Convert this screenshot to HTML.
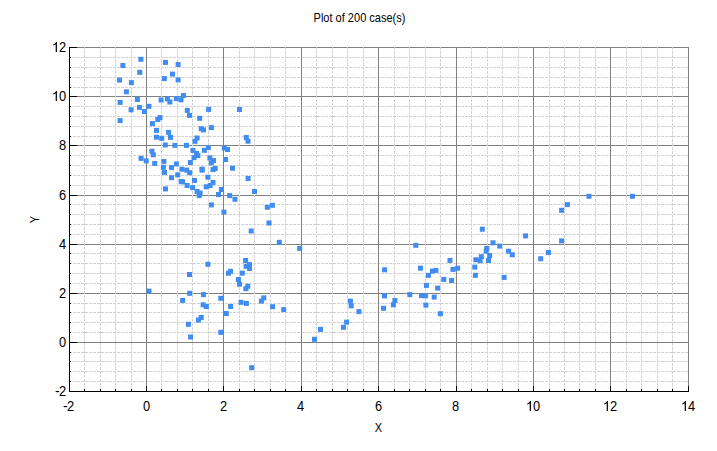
<!DOCTYPE html>
<html><head><meta charset="utf-8"><title>Plot of 200 case(s)</title>
<style>html,body{margin:0;padding:0;background:#fff;}body{width:717px;height:451px;overflow:hidden;font-family:"Liberation Sans",sans-serif;}svg{display:block;}text{font-family:"Liberation Sans",sans-serif;fill:#000;}</style>
</head><body>
<svg width="717" height="451" viewBox="0 0 717 451">
<rect x="0" y="0" width="717" height="451" fill="#ffffff"/>
<g shape-rendering="crispEdges" fill="none">
<g stroke="#d3d3d3" stroke-width="1" stroke-dasharray="3 1">
<line x1="69" y1="381.5" x2="689" y2="381.5"/>
<line x1="69" y1="371.5" x2="689" y2="371.5"/>
<line x1="69" y1="361.5" x2="689" y2="361.5"/>
<line x1="69" y1="352.5" x2="689" y2="352.5"/>
<line x1="69" y1="332.5" x2="689" y2="332.5"/>
<line x1="69" y1="322.5" x2="689" y2="322.5"/>
<line x1="69" y1="312.5" x2="689" y2="312.5"/>
<line x1="69" y1="303.5" x2="689" y2="303.5"/>
<line x1="69" y1="283.5" x2="689" y2="283.5"/>
<line x1="69" y1="273.5" x2="689" y2="273.5"/>
<line x1="69" y1="263.5" x2="689" y2="263.5"/>
<line x1="69" y1="253.5" x2="689" y2="253.5"/>
<line x1="69" y1="234.5" x2="689" y2="234.5"/>
<line x1="69" y1="224.5" x2="689" y2="224.5"/>
<line x1="69" y1="214.5" x2="689" y2="214.5"/>
<line x1="69" y1="204.5" x2="689" y2="204.5"/>
<line x1="69" y1="185.5" x2="689" y2="185.5"/>
<line x1="69" y1="175.5" x2="689" y2="175.5"/>
<line x1="69" y1="165.5" x2="689" y2="165.5"/>
<line x1="69" y1="155.5" x2="689" y2="155.5"/>
<line x1="69" y1="136.5" x2="689" y2="136.5"/>
<line x1="69" y1="126.5" x2="689" y2="126.5"/>
<line x1="69" y1="116.5" x2="689" y2="116.5"/>
<line x1="69" y1="106.5" x2="689" y2="106.5"/>
<line x1="69" y1="87.5" x2="689" y2="87.5"/>
<line x1="69" y1="77.5" x2="689" y2="77.5"/>
<line x1="69" y1="67.5" x2="689" y2="67.5"/>
<line x1="69" y1="57.5" x2="689" y2="57.5"/>
</g>
<g stroke="#808080" stroke-width="1">
<line x1="69" y1="391.5" x2="689" y2="391.5"/>
<line x1="69" y1="342.5" x2="689" y2="342.5"/>
<line x1="69" y1="293.5" x2="689" y2="293.5"/>
<line x1="69" y1="244.5" x2="689" y2="244.5"/>
<line x1="69" y1="195.5" x2="689" y2="195.5"/>
<line x1="69" y1="145.5" x2="689" y2="145.5"/>
<line x1="69" y1="96.5" x2="689" y2="96.5"/>
<line x1="69" y1="47.5" x2="689" y2="47.5"/>
</g>
<g stroke="#d3d3d3" stroke-width="1" stroke-dasharray="3 1">
<line x1="84.5" y1="47" x2="84.5" y2="392"/>
<line x1="100.5" y1="47" x2="100.5" y2="392"/>
<line x1="115.5" y1="47" x2="115.5" y2="392"/>
<line x1="131.5" y1="47" x2="131.5" y2="392"/>
<line x1="161.5" y1="47" x2="161.5" y2="392"/>
<line x1="177.5" y1="47" x2="177.5" y2="392"/>
<line x1="192.5" y1="47" x2="192.5" y2="392"/>
<line x1="208.5" y1="47" x2="208.5" y2="392"/>
<line x1="239.5" y1="47" x2="239.5" y2="392"/>
<line x1="254.5" y1="47" x2="254.5" y2="392"/>
<line x1="270.5" y1="47" x2="270.5" y2="392"/>
<line x1="285.5" y1="47" x2="285.5" y2="392"/>
<line x1="316.5" y1="47" x2="316.5" y2="392"/>
<line x1="332.5" y1="47" x2="332.5" y2="392"/>
<line x1="347.5" y1="47" x2="347.5" y2="392"/>
<line x1="363.5" y1="47" x2="363.5" y2="392"/>
<line x1="394.5" y1="47" x2="394.5" y2="392"/>
<line x1="409.5" y1="47" x2="409.5" y2="392"/>
<line x1="425.5" y1="47" x2="425.5" y2="392"/>
<line x1="440.5" y1="47" x2="440.5" y2="392"/>
<line x1="471.5" y1="47" x2="471.5" y2="392"/>
<line x1="487.5" y1="47" x2="487.5" y2="392"/>
<line x1="502.5" y1="47" x2="502.5" y2="392"/>
<line x1="518.5" y1="47" x2="518.5" y2="392"/>
<line x1="549.5" y1="47" x2="549.5" y2="392"/>
<line x1="564.5" y1="47" x2="564.5" y2="392"/>
<line x1="579.5" y1="47" x2="579.5" y2="392"/>
<line x1="595.5" y1="47" x2="595.5" y2="392"/>
<line x1="626.5" y1="47" x2="626.5" y2="392"/>
<line x1="641.5" y1="47" x2="641.5" y2="392"/>
<line x1="657.5" y1="47" x2="657.5" y2="392"/>
<line x1="672.5" y1="47" x2="672.5" y2="392"/>
</g>
<g stroke="#808080" stroke-width="1">
<line x1="69.5" y1="47" x2="69.5" y2="392"/>
<line x1="146.5" y1="47" x2="146.5" y2="392"/>
<line x1="223.5" y1="47" x2="223.5" y2="392"/>
<line x1="301.5" y1="47" x2="301.5" y2="392"/>
<line x1="378.5" y1="47" x2="378.5" y2="392"/>
<line x1="456.5" y1="47" x2="456.5" y2="392"/>
<line x1="533.5" y1="47" x2="533.5" y2="392"/>
<line x1="610.5" y1="47" x2="610.5" y2="392"/>
<line x1="688.5" y1="47" x2="688.5" y2="392"/>
</g>
<g stroke="#000" stroke-width="1">
<line x1="69.5" y1="47" x2="69.5" y2="392"/>
<line x1="69" y1="391.5" x2="689" y2="391.5"/>
<line x1="69" y1="391.5" x2="77" y2="391.5"/>
<line x1="69" y1="381.5" x2="71" y2="381.5"/>
<line x1="69" y1="371.5" x2="71" y2="371.5"/>
<line x1="69" y1="361.5" x2="71" y2="361.5"/>
<line x1="69" y1="352.5" x2="71" y2="352.5"/>
<line x1="69" y1="342.5" x2="77" y2="342.5"/>
<line x1="69" y1="332.5" x2="71" y2="332.5"/>
<line x1="69" y1="322.5" x2="71" y2="322.5"/>
<line x1="69" y1="312.5" x2="71" y2="312.5"/>
<line x1="69" y1="303.5" x2="71" y2="303.5"/>
<line x1="69" y1="293.5" x2="77" y2="293.5"/>
<line x1="69" y1="283.5" x2="71" y2="283.5"/>
<line x1="69" y1="273.5" x2="71" y2="273.5"/>
<line x1="69" y1="263.5" x2="71" y2="263.5"/>
<line x1="69" y1="253.5" x2="71" y2="253.5"/>
<line x1="69" y1="244.5" x2="77" y2="244.5"/>
<line x1="69" y1="234.5" x2="71" y2="234.5"/>
<line x1="69" y1="224.5" x2="71" y2="224.5"/>
<line x1="69" y1="214.5" x2="71" y2="214.5"/>
<line x1="69" y1="204.5" x2="71" y2="204.5"/>
<line x1="69" y1="195.5" x2="77" y2="195.5"/>
<line x1="69" y1="185.5" x2="71" y2="185.5"/>
<line x1="69" y1="175.5" x2="71" y2="175.5"/>
<line x1="69" y1="165.5" x2="71" y2="165.5"/>
<line x1="69" y1="155.5" x2="71" y2="155.5"/>
<line x1="69" y1="145.5" x2="77" y2="145.5"/>
<line x1="69" y1="136.5" x2="71" y2="136.5"/>
<line x1="69" y1="126.5" x2="71" y2="126.5"/>
<line x1="69" y1="116.5" x2="71" y2="116.5"/>
<line x1="69" y1="106.5" x2="71" y2="106.5"/>
<line x1="69" y1="96.5" x2="77" y2="96.5"/>
<line x1="69" y1="87.5" x2="71" y2="87.5"/>
<line x1="69" y1="77.5" x2="71" y2="77.5"/>
<line x1="69" y1="67.5" x2="71" y2="67.5"/>
<line x1="69" y1="57.5" x2="71" y2="57.5"/>
<line x1="69" y1="47.5" x2="77" y2="47.5"/>
<line x1="69.5" y1="392" x2="69.5" y2="386"/>
<line x1="84.5" y1="392" x2="84.5" y2="389"/>
<line x1="100.5" y1="392" x2="100.5" y2="389"/>
<line x1="115.5" y1="392" x2="115.5" y2="389"/>
<line x1="131.5" y1="392" x2="131.5" y2="389"/>
<line x1="146.5" y1="392" x2="146.5" y2="386"/>
<line x1="161.5" y1="392" x2="161.5" y2="389"/>
<line x1="177.5" y1="392" x2="177.5" y2="389"/>
<line x1="192.5" y1="392" x2="192.5" y2="389"/>
<line x1="208.5" y1="392" x2="208.5" y2="389"/>
<line x1="223.5" y1="392" x2="223.5" y2="386"/>
<line x1="239.5" y1="392" x2="239.5" y2="389"/>
<line x1="254.5" y1="392" x2="254.5" y2="389"/>
<line x1="270.5" y1="392" x2="270.5" y2="389"/>
<line x1="285.5" y1="392" x2="285.5" y2="389"/>
<line x1="301.5" y1="392" x2="301.5" y2="386"/>
<line x1="316.5" y1="392" x2="316.5" y2="389"/>
<line x1="332.5" y1="392" x2="332.5" y2="389"/>
<line x1="347.5" y1="392" x2="347.5" y2="389"/>
<line x1="363.5" y1="392" x2="363.5" y2="389"/>
<line x1="378.5" y1="392" x2="378.5" y2="386"/>
<line x1="394.5" y1="392" x2="394.5" y2="389"/>
<line x1="409.5" y1="392" x2="409.5" y2="389"/>
<line x1="425.5" y1="392" x2="425.5" y2="389"/>
<line x1="440.5" y1="392" x2="440.5" y2="389"/>
<line x1="456.5" y1="392" x2="456.5" y2="386"/>
<line x1="471.5" y1="392" x2="471.5" y2="389"/>
<line x1="487.5" y1="392" x2="487.5" y2="389"/>
<line x1="502.5" y1="392" x2="502.5" y2="389"/>
<line x1="518.5" y1="392" x2="518.5" y2="389"/>
<line x1="533.5" y1="392" x2="533.5" y2="386"/>
<line x1="549.5" y1="392" x2="549.5" y2="389"/>
<line x1="564.5" y1="392" x2="564.5" y2="389"/>
<line x1="579.5" y1="392" x2="579.5" y2="389"/>
<line x1="595.5" y1="392" x2="595.5" y2="389"/>
<line x1="610.5" y1="392" x2="610.5" y2="386"/>
<line x1="626.5" y1="392" x2="626.5" y2="389"/>
<line x1="641.5" y1="392" x2="641.5" y2="389"/>
<line x1="657.5" y1="392" x2="657.5" y2="389"/>
<line x1="672.5" y1="392" x2="672.5" y2="389"/>
<line x1="688.5" y1="392" x2="688.5" y2="386"/>
</g>
</g>
<g fill="#418cf0">
<rect x="138.4" y="56.8" width="5" height="5"/>
<rect x="120.4" y="63.0" width="5" height="5"/>
<rect x="137.3" y="69.8" width="5" height="5"/>
<rect x="117.0" y="77.6" width="5" height="5"/>
<rect x="128.9" y="80.1" width="5" height="5"/>
<rect x="123.9" y="89.3" width="5" height="5"/>
<rect x="163.0" y="59.9" width="5" height="5"/>
<rect x="175.6" y="62.0" width="5" height="5"/>
<rect x="170.0" y="71.6" width="5" height="5"/>
<rect x="161.9" y="76.1" width="5" height="5"/>
<rect x="175.6" y="77.4" width="5" height="5"/>
<rect x="180.9" y="93.0" width="5" height="5"/>
<rect x="134.9" y="97.0" width="5" height="5"/>
<rect x="117.6" y="99.9" width="5" height="5"/>
<rect x="137.0" y="104.9" width="5" height="5"/>
<rect x="128.6" y="107.3" width="5" height="5"/>
<rect x="142.0" y="109.0" width="5" height="5"/>
<rect x="146.4" y="103.8" width="5" height="5"/>
<rect x="117.6" y="118.1" width="5" height="5"/>
<rect x="158.6" y="97.5" width="5" height="5"/>
<rect x="164.9" y="96.4" width="5" height="5"/>
<rect x="167.4" y="99.5" width="5" height="5"/>
<rect x="173.8" y="96.1" width="5" height="5"/>
<rect x="178.5" y="97.3" width="5" height="5"/>
<rect x="157.5" y="115.1" width="5" height="5"/>
<rect x="155.3" y="117.0" width="5" height="5"/>
<rect x="149.9" y="121.1" width="5" height="5"/>
<rect x="154.0" y="127.9" width="5" height="5"/>
<rect x="166.1" y="129.9" width="5" height="5"/>
<rect x="154.0" y="134.7" width="5" height="5"/>
<rect x="159.2" y="135.8" width="5" height="5"/>
<rect x="168.0" y="134.9" width="5" height="5"/>
<rect x="162.8" y="142.5" width="5" height="5"/>
<rect x="172.4" y="142.9" width="5" height="5"/>
<rect x="184.8" y="107.9" width="5" height="5"/>
<rect x="187.0" y="112.9" width="5" height="5"/>
<rect x="206.2" y="106.9" width="5" height="5"/>
<rect x="237.0" y="107.0" width="5" height="5"/>
<rect x="197.2" y="115.8" width="5" height="5"/>
<rect x="198.7" y="126.2" width="5" height="5"/>
<rect x="201.0" y="127.4" width="5" height="5"/>
<rect x="208.9" y="125.1" width="5" height="5"/>
<rect x="194.6" y="135.5" width="5" height="5"/>
<rect x="192.5" y="138.8" width="5" height="5"/>
<rect x="183.9" y="142.9" width="5" height="5"/>
<rect x="243.8" y="135.0" width="5" height="5"/>
<rect x="245.5" y="138.7" width="5" height="5"/>
<rect x="149.4" y="148.7" width="5" height="5"/>
<rect x="150.8" y="152.3" width="5" height="5"/>
<rect x="138.6" y="155.9" width="5" height="5"/>
<rect x="143.7" y="158.4" width="5" height="5"/>
<rect x="152.2" y="160.9" width="5" height="5"/>
<rect x="161.4" y="158.9" width="5" height="5"/>
<rect x="173.9" y="161.5" width="5" height="5"/>
<rect x="160.9" y="164.8" width="5" height="5"/>
<rect x="169.0" y="165.1" width="5" height="5"/>
<rect x="162.0" y="169.9" width="5" height="5"/>
<rect x="169.0" y="175.2" width="5" height="5"/>
<rect x="175.2" y="172.4" width="5" height="5"/>
<rect x="179.4" y="166.7" width="5" height="5"/>
<rect x="178.7" y="178.9" width="5" height="5"/>
<rect x="180.1" y="179.4" width="5" height="5"/>
<rect x="163.0" y="186.4" width="5" height="5"/>
<rect x="205.8" y="145.1" width="5" height="5"/>
<rect x="201.9" y="147.8" width="5" height="5"/>
<rect x="190.4" y="147.9" width="5" height="5"/>
<rect x="194.1" y="150.9" width="5" height="5"/>
<rect x="195.4" y="153.1" width="5" height="5"/>
<rect x="191.5" y="155.2" width="5" height="5"/>
<rect x="221.9" y="145.6" width="5" height="5"/>
<rect x="225.0" y="147.0" width="5" height="5"/>
<rect x="207.4" y="155.4" width="5" height="5"/>
<rect x="211.0" y="158.1" width="5" height="5"/>
<rect x="208.8" y="160.4" width="5" height="5"/>
<rect x="223.1" y="157.0" width="5" height="5"/>
<rect x="187.9" y="160.0" width="5" height="5"/>
<rect x="184.2" y="167.6" width="5" height="5"/>
<rect x="187.2" y="170.2" width="5" height="5"/>
<rect x="199.6" y="166.6" width="5" height="5"/>
<rect x="199.6" y="167.7" width="5" height="5"/>
<rect x="210.5" y="167.1" width="5" height="5"/>
<rect x="212.7" y="166.0" width="5" height="5"/>
<rect x="230.0" y="165.7" width="5" height="5"/>
<rect x="205.4" y="174.7" width="5" height="5"/>
<rect x="192.0" y="177.9" width="5" height="5"/>
<rect x="210.5" y="179.9" width="5" height="5"/>
<rect x="184.6" y="183.0" width="5" height="5"/>
<rect x="207.7" y="183.0" width="5" height="5"/>
<rect x="203.8" y="184.3" width="5" height="5"/>
<rect x="190.1" y="185.1" width="5" height="5"/>
<rect x="218.9" y="187.0" width="5" height="5"/>
<rect x="245.6" y="176.0" width="5" height="5"/>
<rect x="194.6" y="189.0" width="5" height="5"/>
<rect x="197.6" y="190.5" width="5" height="5"/>
<rect x="196.8" y="193.1" width="5" height="5"/>
<rect x="216.0" y="192.0" width="5" height="5"/>
<rect x="227.2" y="193.1" width="5" height="5"/>
<rect x="232.5" y="196.8" width="5" height="5"/>
<rect x="208.9" y="202.4" width="5" height="5"/>
<rect x="221.4" y="209.6" width="5" height="5"/>
<rect x="252.0" y="189.0" width="5" height="5"/>
<rect x="269.9" y="202.8" width="5" height="5"/>
<rect x="264.8" y="204.8" width="5" height="5"/>
<rect x="266.5" y="220.5" width="5" height="5"/>
<rect x="248.7" y="228.5" width="5" height="5"/>
<rect x="276.8" y="239.8" width="5" height="5"/>
<rect x="297.2" y="245.9" width="5" height="5"/>
<rect x="243.1" y="258.0" width="5" height="5"/>
<rect x="247.0" y="262.1" width="5" height="5"/>
<rect x="243.6" y="263.8" width="5" height="5"/>
<rect x="247.0" y="266.0" width="5" height="5"/>
<rect x="239.8" y="270.6" width="5" height="5"/>
<rect x="205.4" y="261.8" width="5" height="5"/>
<rect x="187.0" y="272.0" width="5" height="5"/>
<rect x="228.1" y="268.8" width="5" height="5"/>
<rect x="226.0" y="270.7" width="5" height="5"/>
<rect x="235.9" y="277.0" width="5" height="5"/>
<rect x="237.0" y="281.7" width="5" height="5"/>
<rect x="245.3" y="283.7" width="5" height="5"/>
<rect x="243.4" y="286.2" width="5" height="5"/>
<rect x="187.2" y="290.8" width="5" height="5"/>
<rect x="201.0" y="292.1" width="5" height="5"/>
<rect x="180.1" y="297.9" width="5" height="5"/>
<rect x="218.3" y="295.8" width="5" height="5"/>
<rect x="200.6" y="302.3" width="5" height="5"/>
<rect x="203.8" y="304.0" width="5" height="5"/>
<rect x="238.6" y="299.8" width="5" height="5"/>
<rect x="243.9" y="300.9" width="5" height="5"/>
<rect x="228.1" y="304.0" width="5" height="5"/>
<rect x="223.8" y="311.0" width="5" height="5"/>
<rect x="198.7" y="315.0" width="5" height="5"/>
<rect x="261.3" y="295.4" width="5" height="5"/>
<rect x="258.9" y="298.6" width="5" height="5"/>
<rect x="270.1" y="304.2" width="5" height="5"/>
<rect x="281.2" y="307.1" width="5" height="5"/>
<rect x="196.0" y="317.5" width="5" height="5"/>
<rect x="185.9" y="321.8" width="5" height="5"/>
<rect x="218.3" y="329.8" width="5" height="5"/>
<rect x="188.1" y="334.5" width="5" height="5"/>
<rect x="146.5" y="288.6" width="5" height="5"/>
<rect x="249.2" y="365.2" width="5" height="5"/>
<rect x="312.0" y="336.8" width="5" height="5"/>
<rect x="318.0" y="326.9" width="5" height="5"/>
<rect x="341.0" y="324.8" width="5" height="5"/>
<rect x="344.1" y="319.6" width="5" height="5"/>
<rect x="356.4" y="309.1" width="5" height="5"/>
<rect x="347.9" y="298.6" width="5" height="5"/>
<rect x="348.7" y="303.3" width="5" height="5"/>
<rect x="382.0" y="293.4" width="5" height="5"/>
<rect x="381.0" y="305.8" width="5" height="5"/>
<rect x="392.4" y="298.0" width="5" height="5"/>
<rect x="390.9" y="302.3" width="5" height="5"/>
<rect x="407.3" y="292.1" width="5" height="5"/>
<rect x="419.0" y="293.1" width="5" height="5"/>
<rect x="422.9" y="293.4" width="5" height="5"/>
<rect x="431.7" y="294.6" width="5" height="5"/>
<rect x="423.4" y="302.6" width="5" height="5"/>
<rect x="437.9" y="311.2" width="5" height="5"/>
<rect x="423.9" y="282.9" width="5" height="5"/>
<rect x="435.2" y="285.6" width="5" height="5"/>
<rect x="425.9" y="272.9" width="5" height="5"/>
<rect x="441.3" y="276.9" width="5" height="5"/>
<rect x="449.1" y="278.0" width="5" height="5"/>
<rect x="413.3" y="242.8" width="5" height="5"/>
<rect x="382.1" y="267.3" width="5" height="5"/>
<rect x="418.0" y="265.7" width="5" height="5"/>
<rect x="429.9" y="268.6" width="5" height="5"/>
<rect x="433.4" y="267.9" width="5" height="5"/>
<rect x="447.5" y="257.9" width="5" height="5"/>
<rect x="450.5" y="266.9" width="5" height="5"/>
<rect x="455.1" y="265.7" width="5" height="5"/>
<rect x="479.8" y="226.7" width="5" height="5"/>
<rect x="523.1" y="233.4" width="5" height="5"/>
<rect x="559.1" y="238.4" width="5" height="5"/>
<rect x="490.5" y="240.3" width="5" height="5"/>
<rect x="497.2" y="243.6" width="5" height="5"/>
<rect x="484.3" y="246.0" width="5" height="5"/>
<rect x="483.7" y="248.7" width="5" height="5"/>
<rect x="506.1" y="248.7" width="5" height="5"/>
<rect x="509.8" y="252.3" width="5" height="5"/>
<rect x="487.2" y="253.0" width="5" height="5"/>
<rect x="478.8" y="254.2" width="5" height="5"/>
<rect x="473.4" y="257.2" width="5" height="5"/>
<rect x="477.6" y="258.2" width="5" height="5"/>
<rect x="486.0" y="258.0" width="5" height="5"/>
<rect x="472.3" y="264.6" width="5" height="5"/>
<rect x="472.9" y="272.8" width="5" height="5"/>
<rect x="501.6" y="274.9" width="5" height="5"/>
<rect x="545.9" y="250.0" width="5" height="5"/>
<rect x="538.2" y="256.2" width="5" height="5"/>
<rect x="586.5" y="193.8" width="5" height="5"/>
<rect x="629.9" y="193.8" width="5" height="5"/>
<rect x="564.9" y="202.1" width="5" height="5"/>
<rect x="559.1" y="207.8" width="5" height="5"/>
</g>
<g font-size="14px">
<text x="55" y="396">-</text>
<text transform="translate(59.1,396) scale(0.92,1)">2</text>
<text transform="translate(59.1,347) scale(0.92,1)">0</text>
<text transform="translate(59.1,298) scale(0.92,1)">2</text>
<text transform="translate(59.1,249) scale(0.92,1)">4</text>
<text transform="translate(59.1,200) scale(0.92,1)">6</text>
<text transform="translate(59.1,150) scale(0.92,1)">8</text>
<path d="M763 0H583V1147Q518 1085 412 1023T223 930V1104Q373 1175 486 1275T645 1469H763Z" transform="translate(51.70,101) scale(0.006836,-0.006821)" fill="#000"/>
<text transform="translate(59.1,101) scale(0.92,1)">0</text>
<path d="M763 0H583V1147Q518 1085 412 1023T223 930V1104Q373 1175 486 1275T645 1469H763Z" transform="translate(51.70,52) scale(0.006836,-0.006821)" fill="#000"/>
<text transform="translate(59.1,52) scale(0.92,1)">2</text>
<text x="63" y="411">-</text>
<text transform="translate(67.1,411) scale(0.92,1)">2</text>
<text transform="translate(143.1,411) scale(0.92,1)">0</text>
<text transform="translate(220.1,411) scale(0.92,1)">2</text>
<text transform="translate(297.1,411) scale(0.92,1)">4</text>
<text transform="translate(375.1,411) scale(0.92,1)">6</text>
<text transform="translate(452.1,411) scale(0.92,1)">8</text>
<path d="M763 0H583V1147Q518 1085 412 1023T223 930V1104Q373 1175 486 1275T645 1469H763Z" transform="translate(525.70,411) scale(0.006836,-0.006821)" fill="#000"/>
<text transform="translate(533.1,411) scale(0.92,1)">0</text>
<path d="M763 0H583V1147Q518 1085 412 1023T223 930V1104Q373 1175 486 1275T645 1469H763Z" transform="translate(602.70,411) scale(0.006836,-0.006821)" fill="#000"/>
<text transform="translate(610.1,411) scale(0.92,1)">2</text>
<path d="M763 0H583V1147Q518 1085 412 1023T223 930V1104Q373 1175 486 1275T645 1469H763Z" transform="translate(680.70,411) scale(0.006836,-0.006821)" fill="#000"/>
<text transform="translate(688.1,411) scale(0.92,1)">4</text>
</g>
<g font-size="12px" text-anchor="middle">
<text transform="translate(359.5,22) scale(0.92,1)">Plot of 200 case(s)</text>
<text transform="translate(378.5,432) scale(0.92,1)">X</text>
<text transform="translate(39,219.5) rotate(-90) scale(0.92,1)">Y</text>
</g>
</svg>
</body></html>
